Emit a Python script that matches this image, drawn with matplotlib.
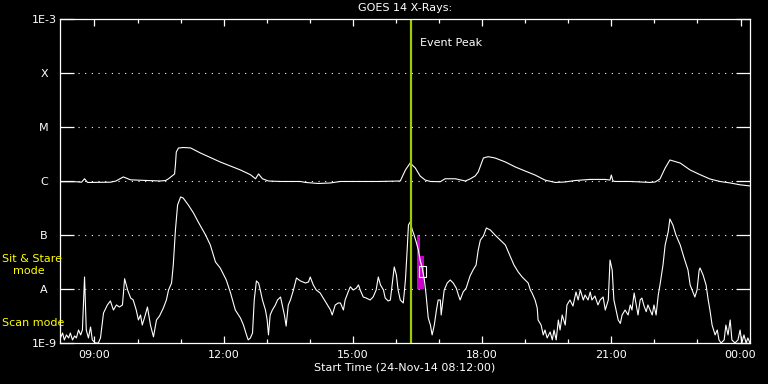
import matplotlib
matplotlib.use('Agg')
import matplotlib.pyplot as plt
from matplotlib.patches import Rectangle
from matplotlib.ticker import FixedLocator, NullLocator

# hours since 00:00 on 24-Nov-14
LONG_TIMES = [8.21, 8.56, 8.70, 8.77, 8.84, 9.37, 9.50, 9.67, 9.84, 10.53,
	10.65, 10.72, 10.86, 10.88, 10.90, 10.95, 11.06, 11.23, 11.46, 11.92,
	12.39, 12.62, 12.74, 12.81, 12.90, 13.04, 13.32, 13.78, 13.90, 14.20,
	14.48, 14.71, 15.17, 15.60, 16.10, 16.22, 16.33, 16.45, 16.56, 16.68,
	16.80, 17.03, 17.14, 17.38, 17.61, 17.72, 17.84, 17.91, 18.03, 18.14,
	18.30, 18.54, 18.77, 19.00, 19.23, 19.46, 19.70, 19.93, 20.16, 20.51,
	20.86, 20.97, 21.00, 21.04, 21.09, 21.44, 21.67, 21.90, 22.02, 22.13,
	22.25, 22.36, 22.60, 22.83, 23.06, 23.29, 23.52, 23.76, 23.99, 24.22]
LONG_FLUX = [9.7e-7, 9.7e-7, 9.5e-7, 1.1e-6, 9.4e-7, 9.5e-7, 1.0e-6, 1.19e-6, 1.05e-6, 1.0e-6,
	1.02e-6, 1.1e-6, 1.35e-6, 2.0e-6, 3.44e-6, 4.08e-6, 4.17e-6, 4.1e-6, 3.30e-6, 2.25e-6,
	1.60e-6, 1.31e-6, 1.1e-6, 1.35e-6, 1.1e-6, 1.0e-6, 9.8e-7, 9.8e-7, 9.4e-7, 9.0e-7,
	9.2e-7, 9.8e-7, 9.8e-7, 9.8e-7, 1.0e-6, 1.60e-6, 2.15e-6, 1.74e-6, 1.24e-6, 1.04e-6,
	9.8e-7, 9.7e-7, 1.1e-6, 1.1e-6, 1.0e-6, 1.09e-6, 1.24e-6, 1.47e-6, 2.67e-6, 2.82e-6,
	2.67e-6, 2.25e-6, 1.82e-6, 1.53e-6, 1.29e-6, 1.04e-6, 9.4e-7, 9.6e-7, 1.02e-6, 1.07e-6,
	1.07e-6, 1.04e-6, 1.29e-6, 1.0e-6, 9.8e-7, 9.8e-7, 9.6e-7, 9.4e-7, 9.6e-7, 1.09e-6,
	1.74e-6, 2.45e-6, 2.15e-6, 1.60e-6, 1.31e-6, 1.09e-6, 9.8e-7, 9.2e-7, 8.5e-7, 8.1e-7]

SHORT_TIMES = [8.21, 8.26, 8.30, 8.35, 8.40, 8.44, 8.49, 8.54, 8.58, 8.63,
	8.68, 8.72, 8.77, 8.81, 8.86, 8.91, 8.95, 9.02, 9.09, 9.14,
	9.21, 9.30, 9.37, 9.44, 9.51, 9.58, 9.65, 9.70, 9.77, 9.84,
	9.90, 9.97, 10.02, 10.07, 10.11, 10.18, 10.23, 10.30, 10.37, 10.44,
	10.51, 10.60, 10.67, 10.72, 10.79, 10.83, 10.88, 10.93, 11.00, 11.06,
	11.18, 11.30, 11.41, 11.58, 11.69, 11.81, 11.92, 12.06, 12.16, 12.27,
	12.39, 12.46, 12.53, 12.57, 12.62, 12.67, 12.71, 12.76, 12.81, 12.85,
	12.90, 12.97, 13.01, 13.04, 13.08, 13.13, 13.20, 13.25, 13.32, 13.36,
	13.41, 13.45, 13.50, 13.55, 13.62, 13.69, 13.78, 13.90, 13.97, 14.01,
	14.08, 14.15, 14.24, 14.34, 14.41, 14.48, 14.52, 14.59, 14.66, 14.71,
	14.78, 14.82, 14.89, 14.94, 15.01, 15.08, 15.13, 15.17, 15.24, 15.31,
	15.40, 15.47, 15.54, 15.59, 15.64, 15.71, 15.75, 15.82, 15.87, 15.91,
	15.96, 16.01, 16.05, 16.10, 16.17, 16.22, 16.26, 16.29, 16.33, 16.38,
	16.42, 16.47, 16.52, 16.56, 16.61, 16.66, 16.70, 16.75, 16.80, 16.84,
	16.89, 16.94, 16.98, 17.03, 17.05, 17.12, 17.19, 17.26, 17.33, 17.40,
	17.45, 17.49, 17.56, 17.63, 17.72, 17.79, 17.86, 17.91, 17.96, 18.03,
	18.10, 18.19, 18.30, 18.42, 18.54, 18.65, 18.74, 18.84, 18.93, 19.00,
	19.07, 19.12, 19.16, 19.23, 19.28, 19.30, 19.37, 19.42, 19.46, 19.51,
	19.58, 19.63, 19.67, 19.72, 19.77, 19.81, 19.86, 19.93, 19.97, 20.04,
	20.11, 20.18, 20.23, 20.28, 20.35, 20.39, 20.46, 20.51, 20.55, 20.62,
	20.69, 20.74, 20.81, 20.86, 20.93, 20.97, 21.02, 21.06, 21.11, 21.16,
	21.21, 21.25, 21.32, 21.39, 21.44, 21.48, 21.53, 21.58, 21.62, 21.67,
	21.71, 21.76, 21.81, 21.85, 21.90, 21.95, 21.99, 22.04, 22.09, 22.13,
	22.20, 22.25, 22.32, 22.36, 22.43, 22.50, 22.60, 22.69, 22.78, 22.83,
	22.94, 22.99, 23.04, 23.06, 23.13, 23.20, 23.25, 23.29, 23.34, 23.41,
	23.46, 23.50, 23.55, 23.62, 23.66, 23.71, 23.76, 23.80, 23.87, 23.94,
	23.99, 24.03, 24.08, 24.13, 24.17, 24.22]
SHORT_FLUX = [1.24e-9, 1.53e-9, 1.14e-9, 1.41e-9, 1.24e-9, 1.53e-9, 1.14e-9, 1.35e-9, 1.24e-9, 1.74e-9,
	1.41e-9, 1.74e-9, 1.67e-8, 1.74e-9, 1.24e-9, 1.98e-9, 1.14e-9, 1.0e-9, 1.0e-9, 1.24e-9,
	3.59e-9, 5.06e-9, 6.0e-9, 4.08e-9, 5.06e-9, 4.64e-9, 5.06e-9, 1.55e-8, 9.58e-9, 6.81e-9,
	6.26e-9, 4.08e-9, 2.67e-9, 3.30e-9, 2.15e-9, 3.30e-9, 4.64e-9, 2.15e-9, 1.3e-9, 2.67e-9,
	3.16e-9, 4.45e-9, 6.26e-9, 9.58e-9, 1.29e-8, 2.78e-8, 1.24e-7, 3.59e-7, 5.06e-7, 4.84e-7,
	3.59e-7, 2.55e-7, 1.74e-7, 1.0e-7, 6.53e-8, 3.16e-8, 2.45e-8, 1.47e-8, 8.43e-9, 4.08e-9,
	2.90e-9, 2.15e-9, 1.41e-9, 1.14e-9, 1.24e-9, 1.53e-9, 6.26e-9, 1.41e-8, 1.29e-8, 9.58e-9,
	6.26e-9, 4.08e-9, 2.67e-9, 1.41e-9, 3.30e-9, 4.08e-9, 5.06e-9, 6.26e-9, 7.11e-9, 5.06e-9,
	3.30e-9, 2.06e-9, 5.06e-9, 6.26e-9, 9.58e-9, 1.6e-8, 1.41e-8, 1.29e-8, 1.35e-8, 1.67e-8,
	1.19e-8, 9.58e-9, 8.43e-9, 6.26e-9, 5.06e-9, 4.08e-9, 3.30e-9, 5.06e-9, 5.51e-9, 5.51e-9,
	4.08e-9, 6.26e-9, 8.80e-9, 1.1e-8, 9.58e-9, 1.04e-8, 1.19e-8, 9.58e-9, 7.11e-9, 6.81e-9,
	6.26e-9, 7.11e-9, 9.58e-9, 1.67e-8, 1.19e-8, 9.58e-9, 6.81e-9, 6.0e-9, 6.26e-9, 1.19e-8,
	2.56e-8, 1.82e-8, 9.58e-9, 6.26e-9, 5.51e-9, 1.47e-8, 5.27e-8, 1.53e-7, 1.74e-7, 1.24e-7,
	1.0e-7, 7.42e-8, 5.27e-8, 3.44e-8, 2.45e-8, 1.47e-8, 7.74e-9, 2.90e-9, 2.15e-9, 1.41e-9,
	2.15e-9, 4.08e-9, 6.26e-9, 6.26e-9, 3.30e-9, 9.58e-9, 1.29e-8, 1.47e-8, 1.29e-8, 1.04e-8,
	7.74e-9, 6.26e-9, 8.80e-9, 1.04e-8, 1.74e-8, 2.25e-8, 2.78e-8, 5.27e-8, 8.07e-8, 9.58e-8,
	1.35e-7, 1.24e-7, 1.0e-7, 8.07e-8, 6.53e-8, 4.08e-8, 2.78e-8, 2.06e-8, 1.67e-8, 1.47e-8,
	1.29e-8, 9.58e-9, 8.43e-9, 6.26e-9, 4.45e-9, 2.67e-9, 2.15e-9, 1.41e-9, 1.74e-9, 1.24e-9,
	1.6e-9, 1.14e-9, 1.74e-9, 1.14e-9, 2.67e-9, 1.74e-9, 3.30e-9, 2.15e-9, 5.06e-9, 6.26e-9,
	4.84e-9, 8.80e-9, 6.26e-9, 9.58e-9, 6.26e-9, 7.74e-9, 6.26e-9, 8.80e-9, 6.26e-9, 7.42e-9,
	5.06e-9, 6.26e-9, 7.11e-9, 4.08e-9, 6.26e-9, 3.44e-8, 2.25e-8, 6.26e-9, 4.08e-9, 2.67e-9,
	2.3e-9, 3.30e-9, 4.08e-9, 3.30e-9, 5.06e-9, 4.08e-9, 8.43e-9, 5.06e-9, 3.30e-9, 6.26e-9,
	6.81e-9, 4.84e-9, 3.8e-9, 5.06e-9, 4.08e-9, 3.30e-9, 5.06e-9, 3.30e-9, 7.74e-9, 1.19e-8,
	2.78e-8, 6.53e-8, 1.14e-7, 1.98e-7, 1.53e-7, 1.0e-7, 6.53e-8, 3.75e-8, 2.25e-8, 1.19e-8,
	7.11e-9, 9.58e-9, 2.25e-8, 2.45e-8, 1.82e-8, 1.19e-8, 6.26e-9, 4.08e-9, 2.15e-9, 1.41e-9,
	1.74e-9, 1.14e-9, 1.0e-9, 1.14e-9, 2.15e-9, 1.41e-9, 2.67e-9, 1.14e-9, 1.0e-9, 1.14e-9,
	1.74e-9, 1.0e-9, 1.41e-9, 1.0e-9, 1.24e-9, 1.0e-9]

EVENT_PEAK = 16.36

# sit & stare intervals (left edge, width, top flux), all from A level up
STARE_STARTS = [16.49, 16.56]
STARE_WIDTHS = [0.07, 0.08]
STARE_TOPS = [1.0e-7, 4.08e-8]
STARE_BOTTOM = 1.0e-8
BOX_TIMES = [16.54, 16.70]
BOX_FLUX = [1.67e-8, 2.67e-8]

CLASS_LEVELS = [1e-9, 1e-8, 1e-7, 1e-6, 1e-5, 1e-4, 1e-3]
CLASS_LABELS = ['1E-9', 'A', 'B', 'C', 'M', 'X', '1E-3']
HOUR_TICKS = [9, 12, 15, 18, 21, 24]
HOUR_LABELS = ['09:00', '12:00', '15:00', '18:00', '21:00', '00:00']
T_START = 8.2
T_END = 24.22

FS = 8
PEAK_COLOR = '#9fcc00'
STARE_COLOR = '#cc00cc'


def draw_chart():
	fig = plt.figure(figsize=(7.68, 3.84), dpi=100, facecolor='black')
	ax = fig.add_axes([60 / 768, 1 - 343 / 384, 690 / 768, 324 / 384])
	ax.set_facecolor('black')

	ax.set_yscale('log')
	ax.set_ylim(1e-9, 1e-3)
	ax.set_xlim(T_START, T_END)

	for spine in ax.spines.values():
		spine.set_color('white')
		spine.set_linewidth(0.9)

	# dotted class levels, short of the tick marks
	for lvl in CLASS_LEVELS[1:-1]:
		ax.axhline(lvl, xmin=18 / 690, xmax=673 / 690, color='white',
			linewidth=0.8, linestyle=(0, (1, 5)))

	ax.bar(STARE_STARTS, [t - STARE_BOTTOM for t in STARE_TOPS], width=STARE_WIDTHS,
		bottom=STARE_BOTTOM, align='edge', color=STARE_COLOR, linewidth=0)

	ax.plot(LONG_TIMES, LONG_FLUX, color='white', linewidth=0.8)
	ax.plot(SHORT_TIMES, SHORT_FLUX, color='white', linewidth=0.8)

	ax.add_patch(Rectangle((BOX_TIMES[0], BOX_FLUX[0]), BOX_TIMES[1] - BOX_TIMES[0],
		BOX_FLUX[1] - BOX_FLUX[0], fill=False, edgecolor='white', linewidth=0.8))

	ax.axvline(EVENT_PEAK, color=PEAK_COLOR, linewidth=1.6)
	ax.annotate('Event Peak', xy=(EVENT_PEAK, 1e-3), xytext=(9, -24),
		textcoords='offset pixels', color='white', fontsize=FS,
		ha='left', va='center')

	ax.yaxis.set_major_locator(FixedLocator(CLASS_LEVELS))
	ax.yaxis.set_minor_locator(NullLocator())
	ax.set_yticklabels(CLASS_LABELS)
	for lab in ax.get_yticklabels():
		lab.set_horizontalalignment('center')
	ax.tick_params(axis='y', which='major', direction='in', length=10, width=0.9,
		colors='white', labelsize=FS, right=True, labelright=False, pad=11.5)

	ax.xaxis.set_major_locator(FixedLocator(HOUR_TICKS))
	ax.xaxis.set_minor_locator(FixedLocator(list(range(9, 25))))
	ax.set_xticklabels(HOUR_LABELS)
	ax.tick_params(axis='x', which='major', direction='in', length=5, width=0.9,
		colors='white', labelsize=FS, top=True, pad=5)
	ax.tick_params(axis='x', which='minor', direction='in', length=3, width=0.9,
		colors='white', top=True)

	cx = 405 / 768
	fig.text(cx, 1 - 8 / 384, 'GOES 14 X-Rays:', color='white', fontsize=FS,
		ha='center', va='center')
	fig.text(cx, 1 - 368 / 384, 'Start Time (24-Nov-14 08:12:00)', color='white',
		fontsize=FS, ha='center', va='center')

	fig.text(2 / 768, 1 - 259 / 384, 'Sit & Stare', color='yellow', fontsize=FS,
		ha='left', va='center')
	fig.text(13 / 768, 1 - 271 / 384, 'mode', color='yellow', fontsize=FS,
		ha='left', va='center')
	fig.text(2 / 768, 1 - 323 / 384, 'Scan mode', color='yellow', fontsize=FS,
		ha='left', va='center')

	fig.savefig('out.png', dpi=100, facecolor='black')


def main():
	draw_chart()


if __name__ == '__main__':
	main()
